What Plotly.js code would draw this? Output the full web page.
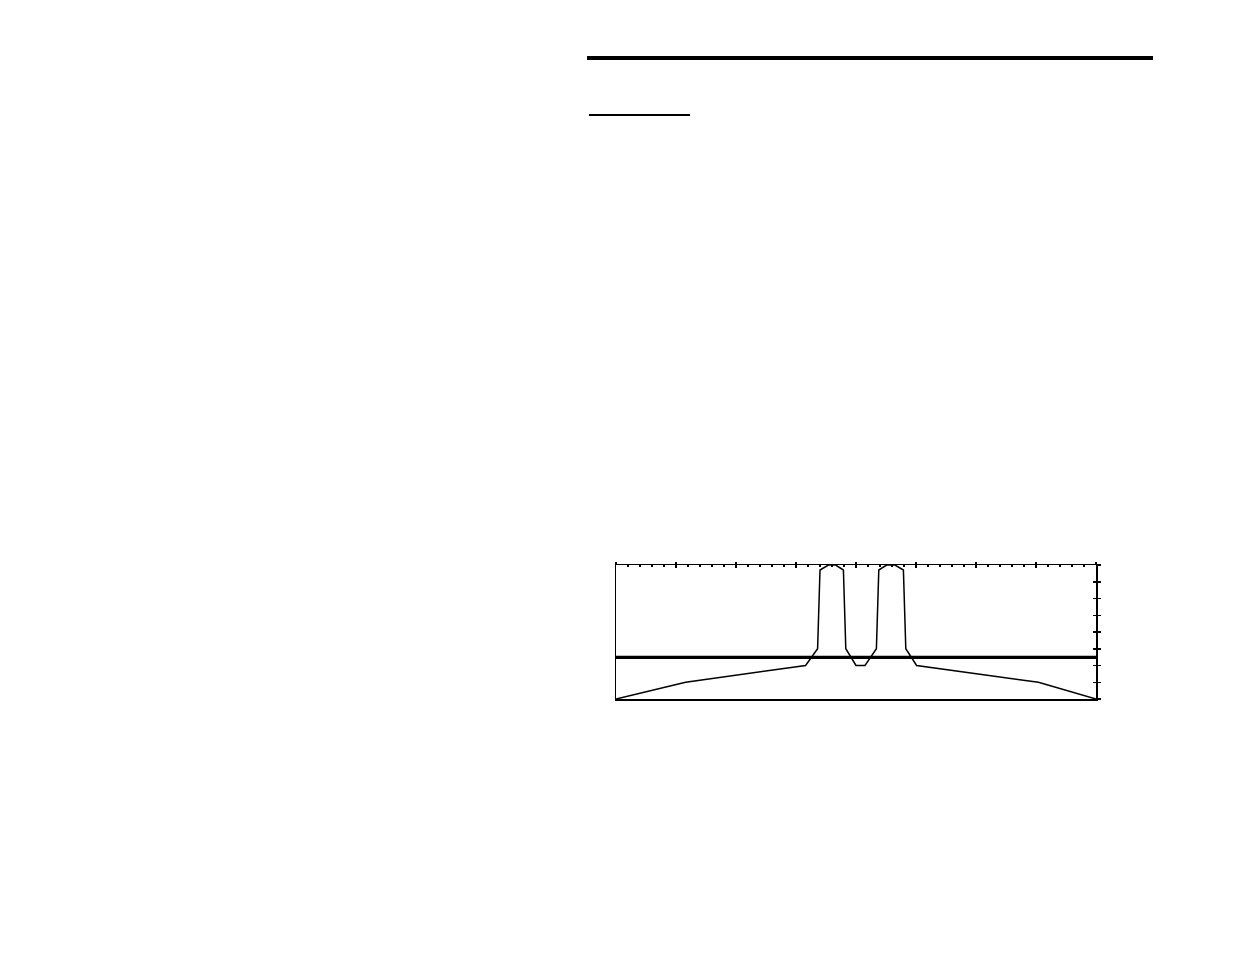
<!DOCTYPE html>
<html>
<head>
<meta charset="utf-8">
<script src="https://cdn.plot.ly/plotly-3.0.1.min.js"></script>
<style>
    body { margin: 0; background: #fff; }
    #profile_chart { position: absolute; left: 0; top: 0; width: 1235px; height: 954px; }
    .rule { position: absolute; background: #000; }
</style>
</head>
<body>
<div id="profile_chart"></div>
<div class="rule" style="left:587px; top:56px; width:566px; height:4px;"></div>
<div class="rule" style="left:589px; top:114px; width:101px; height:1.5px;"></div>
<script>
// profile (x in tick units 0..40, y in tick units 0..8)
var profile_x = [0, 5.8, 15.8, 16.8, 17.0, 17.7, 18.3, 18.95, 19.15, 20.0, 20.75, 21.7, 21.9, 22.55, 23.25, 23.95, 24.15, 25.05, 35.2, 40]
var profile_y = [0, 1.0, 2.0, 3.0, 7.7, 8.0, 8.0, 7.7, 3.0, 2.0, 2.0, 3.0, 7.7, 8.0, 8.0, 7.7, 3.0, 2.0, 1.0, 0]
var level_x = [-0.2, 40]
var level_y = [2.48, 2.48]

function load_profile_chart() {
    var trace1 = {
        x: profile_x,
        y: profile_y,
        type: 'scatter',
        mode: 'lines',
        line: {color: '#000', width: 1.5},
        hoverinfo: 'skip',
        cliponaxis: false,
    };

    var trace2 = {
        x: level_x,
        y: level_y,
        type: 'scatter',
        mode: 'lines',
        line: {color: '#000', width: 3.2},
        hoverinfo: 'skip',
        cliponaxis: false,
    };

    var layout = {
        width: 1235,
        height: 954,
        showlegend: false,
        margin: {l: 616, r: 139, t: 565, b: 255, pad: 0},
        paper_bgcolor: '#fff',
        plot_bgcolor: '#fff',
        xaxis: {
            range: [0, 40],
            side: 'top',
            showgrid: false,
            zeroline: false,
            showline: true,
            mirror: true,
            linecolor: '#000',
            linewidth: 1.5,
            ticks: 'inside',
            dtick: 5,
            tick0: 0,
            ticklen: 2.5,
            tickwidth: 1.5,
            tickcolor: '#000',
            minor: {ticks: 'inside', dtick: 1, ticklen: 2, tickwidth: 1.2, tickcolor: '#000', showgrid: false},
            showticklabels: false,
            fixedrange: true,
        },
        xaxis2: {
            overlaying: 'x',
            range: [0, 40],
            side: 'top',
            showgrid: false,
            zeroline: false,
            showline: false,
            ticks: 'outside',
            dtick: 5,
            tick0: 0,
            ticklen: 2.5,
            tickwidth: 1.5,
            tickcolor: '#000',
            showticklabels: false,
            fixedrange: true,
        },
        yaxis: {
            range: [0, 8],
            side: 'right',
            showgrid: false,
            zeroline: false,
            showline: true,
            mirror: true,
            linecolor: '#000',
            linewidth: 1.5,
            ticks: 'outside',
            dtick: 1,
            ticklen: 3,
            tickwidth: 1.5,
            tickcolor: '#000',
            showticklabels: false,
            fixedrange: true,
        },
        yaxis2: {
            overlaying: 'y',
            range: [0, 8],
            side: 'right',
            showgrid: false,
            zeroline: false,
            showline: false,
            ticks: 'inside',
            dtick: 1,
            ticklen: 3,
            tickwidth: 1.5,
            tickcolor: '#000',
            showticklabels: false,
            fixedrange: true,
        },
    };

    // empty trace so the second axes pair gets drawn
    var trace3 = {x: [], y: [], xaxis: 'x2', yaxis: 'y2', type: 'scatter', hoverinfo: 'skip'}

    var data = [trace1, trace2, trace3]
    Plotly.newPlot('profile_chart', data, layout, {displayModeBar: false, staticPlot: true});
}

load_profile_chart()
</script>
</body>
</html>
